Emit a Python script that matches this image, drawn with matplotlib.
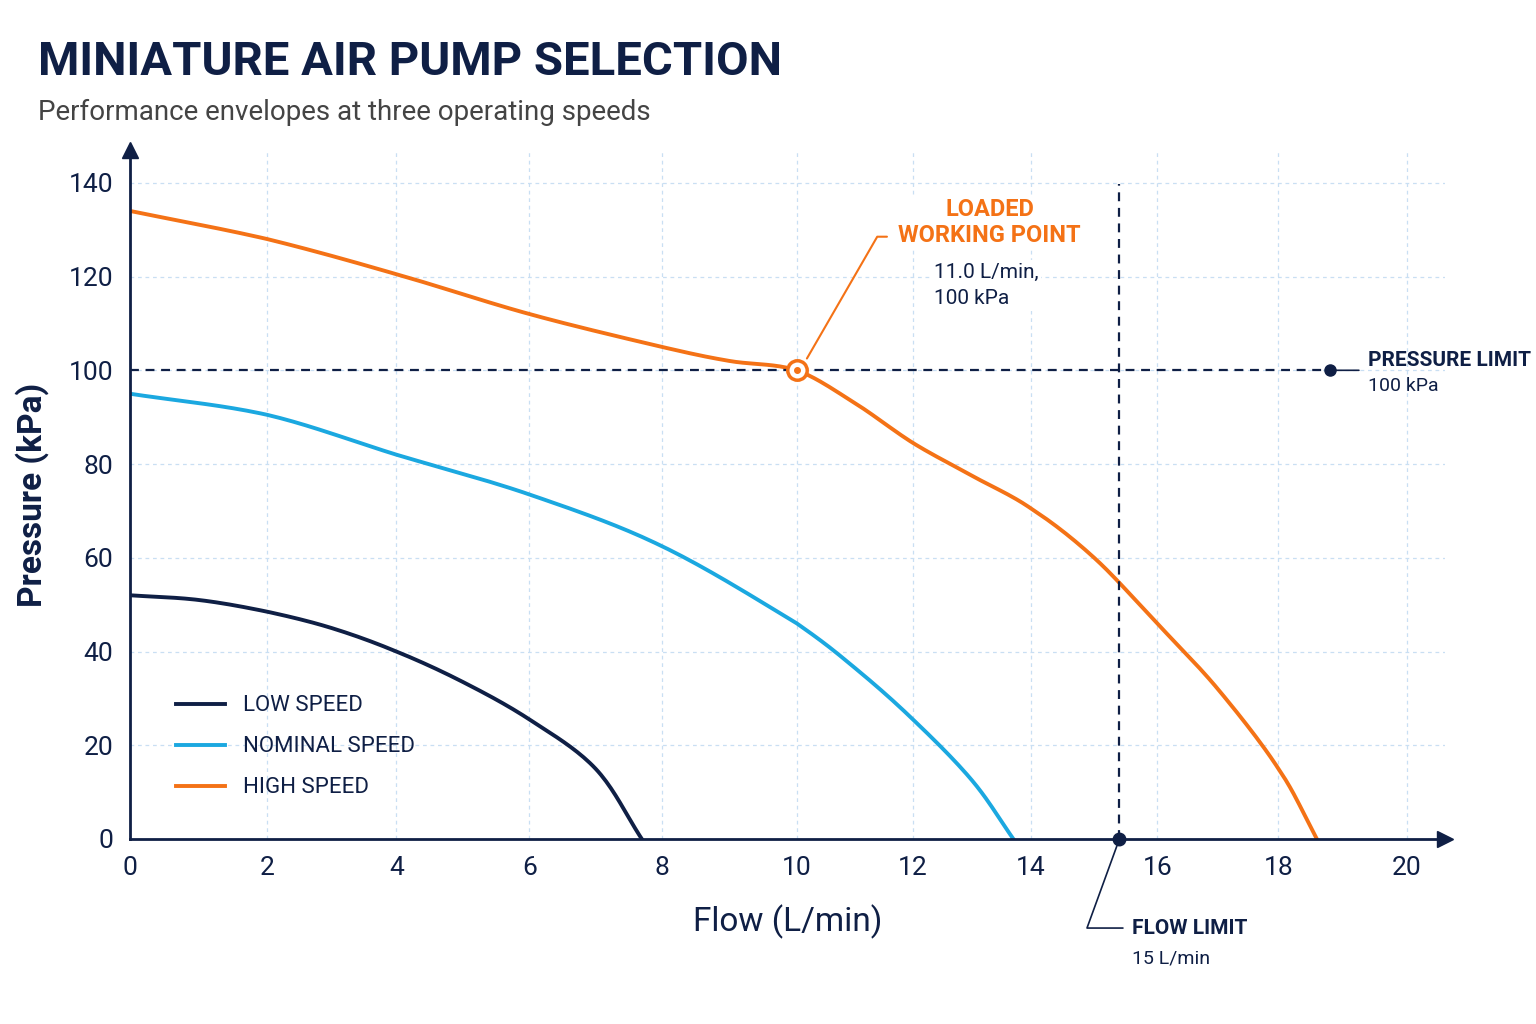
import numpy as np
import matplotlib
matplotlib.use('Agg')
from matplotlib import pyplot as plt
from matplotlib.scale import FuncScale

plt.rcParams['font.family'] = ['Roboto', 'DejaVu Sans']

NAVY = '#0f1f45'
BLUE = '#1ba8e0'
ORANGE = '#f47216'

# data (flow L/min, pressure kPa)
low_flow = [0, 1, 2, 3, 4, 5, 6, 7, 7.7]
low_pres = [52, 51, 48.5, 45, 40, 33.5, 25.5, 15, 0]
nom_flow = [0, 2, 4, 6, 8, 10, 11, 12, 13, 13.7]
nom_pres = [95, 90.5, 82, 73.5, 62.5, 46, 36.5, 25.5, 12.5, 0]
high_flow = [0, 2, 4, 6, 8, 9, 10, 11, 12, 13, 14, 15, 16, 17, 18, 18.6]
high_pres = [134, 128, 120.5, 112, 105, 102, 100, 93, 84.5, 77.5, 70.5, 60, 46, 32, 15, 0]
x_ticks = [0, 2, 4, 6, 8, 10, 12, 14, 16, 18, 20]
y_ticks = [0, 20, 40, 60, 80, 100, 120, 140]
pressure_limit = 100
flow_limit = 15.4
work_x, work_y = 10, 100

# uneven tick spacing of the reference axis
tick_pix = [130, 267, 396, 529, 661, 796, 912, 1030, 1156, 1277, 1405, 1533]
tick_val = x_ticks + [22]
fwd = lambda x: np.interp(x, tick_val, tick_pix)
inv = lambda p: np.interp(p, tick_pix, tick_val)


def smooth(xs, ys, n=20):
    # catmull-rom rendering through the read points
    xs, ys = np.asarray(xs, float), np.asarray(ys, float)
    px = np.concatenate([[2 * xs[0] - xs[1]], xs, [2 * xs[-1] - xs[-2]]])
    py = np.concatenate([[2 * ys[0] - ys[1]], ys, [2 * ys[-1] - ys[-2]]])
    ox, oy = [], []
    t = np.linspace(0, 1, n, endpoint=False)
    for i in range(1, len(px) - 2):
        for p, o in ((px, ox), (py, oy)):
            p0, p1, p2, p3 = p[i - 1:i + 3]
            o.extend(0.5 * (2 * p1 + (p2 - p0) * t + (2 * p0 - 5 * p1 + 4 * p2 - p3) * t ** 2
                            + (3 * p1 - p0 - 3 * p2 + p3) * t ** 3))
    ox.append(xs[-1])
    oy.append(ys[-1])
    return ox, oy


fig = plt.figure(figsize=(15.36, 10.24), dpi=100)
ax = fig.add_axes([130 / 1536, 185 / 1024, 1315 / 1536, 689 / 1024])
ax.set_xscale(FuncScale(ax, (fwd, inv)))
ax.set_xlim(0, 20.6)
ax.set_ylim(0, 147)

ax.plot(*smooth(low_flow, low_pres), color=NAVY, lw=2.8, label='LOW SPEED')
ax.plot(*smooth(nom_flow, nom_pres), color=BLUE, lw=2.8, label='NOMINAL SPEED')
ax.plot(*smooth(high_flow, high_pres), color=ORANGE, lw=2.8, label='HIGH SPEED')

ax.set_xticks(x_ticks)
ax.set_yticks(y_ticks)
ax.grid(True, color='#c9dff3', ls=(0, (3, 3)), lw=0.9)
ax.tick_params(length=0, labelsize=19, colors=NAVY, pad=12)
for s in ['top', 'right']:
    ax.spines[s].set_visible(False)
for s in ['left', 'bottom']:
    ax.spines[s].set_color(NAVY)
    ax.spines[s].set_linewidth(2)
ax.plot(1, 0, '>', color=NAVY, ms=12, transform=ax.transAxes, clip_on=False)
ax.plot(0, 1, '^', color=NAVY, ms=12, transform=ax.transAxes, clip_on=False)

ax.set_xlabel('Flow (L/min)', fontsize=24, color=NAVY, labelpad=18)
ax.set_ylabel('Pressure (kPa)', fontsize=24, color=NAVY, fontweight='bold', labelpad=14)

# limits
ax.axhline(pressure_limit, xmax=0.91, color=NAVY, ls=(0, (4, 3)), lw=1.6)
ax.axvline(flow_limit, ymax=0.95, color=NAVY, ls=(0, (4, 3)), lw=1.6)
ax.plot(18.8, pressure_limit, 'o', color=NAVY, ms=8, clip_on=False)
ax.plot(flow_limit, 0, 'o', color=NAVY, ms=9, clip_on=False, zorder=5)
ax.annotate('', xy=(18.8, pressure_limit), xytext=(19.3, pressure_limit),
            arrowprops=dict(arrowstyle='-', color=NAVY, lw=1.2), annotation_clip=False)
ax.text(19.4, 100, 'PRESSURE LIMIT', fontsize=15, color=NAVY, fontweight='bold', va='bottom')
ax.text(19.4, 98.5, '100 kPa', fontsize=14, color=NAVY, va='top')

ax.annotate('', xy=(flow_limit, 0), xytext=(15.5, -19),
            arrowprops=dict(arrowstyle='-', color=NAVY, lw=1.2,
                            connectionstyle='angle,angleA=0,angleB=70,rad=0'),
            annotation_clip=False)
ax.text(15.6, -19, 'FLOW LIMIT', fontsize=15, color=NAVY, fontweight='bold', va='center')
ax.text(15.6, -25.5, '15 L/min', fontsize=14, color=NAVY, va='center')

# working point
ax.plot(work_x, work_y, 'o', ms=14, mfc='white', mec=ORANGE, mew=2.5, zorder=6)
ax.plot(work_x, work_y, 'o', ms=4, color=ORANGE, zorder=7)
ax.annotate('', xy=(10.15, 102), xytext=(11.6, 128.5),
            arrowprops=dict(arrowstyle='-', color=ORANGE, lw=1.5,
                            connectionstyle='angle,angleA=0,angleB=60,rad=0'))
ax.text(13.3, 131.5, 'LOADED\nWORKING POINT', fontsize=17, color=ORANGE, fontweight='bold',
        ha='center', va='center', linespacing=1.2,
        bbox=dict(fc='white', ec='none', pad=2))
ax.text(12.35, 123, '11.0 L/min,\n100 kPa', fontsize=15, color=NAVY, ha='left', va='top',
        linespacing=1.5, bbox=dict(fc='white', ec='none', pad=2))

leg = ax.legend(loc='lower left', bbox_to_anchor=(0.02, 0.03), frameon=False, fontsize=16,
                handlelength=2.2, labelspacing=0.9)
for t in leg.get_texts():
    t.set_color(NAVY)

fig.text(38 / 1536, 1 - 62 / 1024, 'MINIATURE AIR PUMP SELECTION', fontsize=34,
         fontweight='bold', color=NAVY, va='center')
fig.text(38 / 1536, 1 - 112 / 1024, 'Performance envelopes at three operating speeds',
         fontsize=20, color='#444444', va='center')

fig.savefig('out.png', dpi=100)
